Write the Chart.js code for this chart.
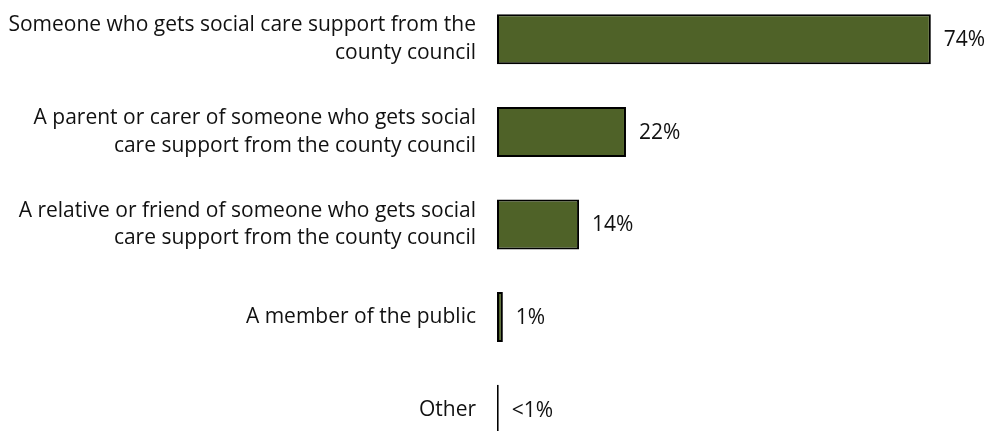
<!DOCTYPE html>
<html>
<head>
<meta charset="utf-8">
<script src="https://cdn.jsdelivr.net/npm/chart.js@4.4.1/dist/chart.umd.min.js"></script>
<style>
  html, body { margin: 0; padding: 0; background: #fff; overflow: hidden; }
  #wrap { position: absolute; left: 0; top: -7px; width: 989px; height: 463px; }
</style>
</head>
<body>
<div id="wrap"><canvas id="respondentChart"></canvas></div>
<script>
// respondent type, share of answers (%)
const categories = [
    ['Someone who gets social care support from the', 'county council'],
    ['A parent or carer of someone who gets social', 'care support from the county council'],
    ['A relative or friend of someone who gets social', 'care support from the county council'],
    'A member of the public',
    'Other'
];
const values = [74, 22, 14, 1, 0.3];
const valueLabels = ['74%', '22%', '14%', '1%', '<1%'];

const FONT_FAMILY = "'Open Sans', 'Noto Sans', sans-serif";
const FONT_SIZE = 21;

// percentage text just right of each bar
const barValueLabels = {
    id: 'barValueLabels',
    afterDatasetsDraw(chart) {
        const ctx = chart.ctx;
        const meta = chart.getDatasetMeta(0);
        ctx.save();
        ctx.font = FONT_SIZE + 'px ' + FONT_FAMILY;
        ctx.fillStyle = '#111';
        ctx.textAlign = 'left';
        ctx.textBaseline = 'middle';
        meta.data.forEach((bar, i) => {
            ctx.fillText(valueLabels[i], bar.x + 13, bar.y + 1);
        });
        ctx.restore();
    }
};

document.addEventListener('DOMContentLoaded', () => {
    const canvas = document.getElementById('respondentChart');
    new Chart(canvas, {
        type: 'bar',
        data: {
            labels: categories,
            datasets: [{
                data: values,
                backgroundColor: '#4F6228',
                borderColor: '#000',
                borderWidth: 2,
                borderSkipped: false,
                barPercentage: 0.54,
                categoryPercentage: 1
            }]
        },
        options: {
            indexAxis: 'y',
            responsive: true,
            maintainAspectRatio: false,
            animation: false,
            layout: { padding: { left: 0, right: 23, top: 0, bottom: 0 } },
            plugins: {
                legend: { display: false },
                tooltip: { enabled: false }
            },
            scales: {
                x: {
                    display: false,
                    min: 0,
                    max: 80
                },
                y: {
                    grid: { display: false, drawTicks: false },
                    border: { display: false },
                    // fixed label column, no extra room above/below the bars
                    afterFit: (scale) => {
                        scale.width = 497;
                        scale.paddingTop = 0;
                        scale.paddingBottom = 0;
                    },
                    ticks: {
                        padding: 21,
                        color: '#111',
                        font: { family: FONT_FAMILY, size: FONT_SIZE, lineHeight: 1.33 }
                    }
                }
            }
        },
        plugins: [barValueLabels]
    });
});
</script>
</body>
</html>
